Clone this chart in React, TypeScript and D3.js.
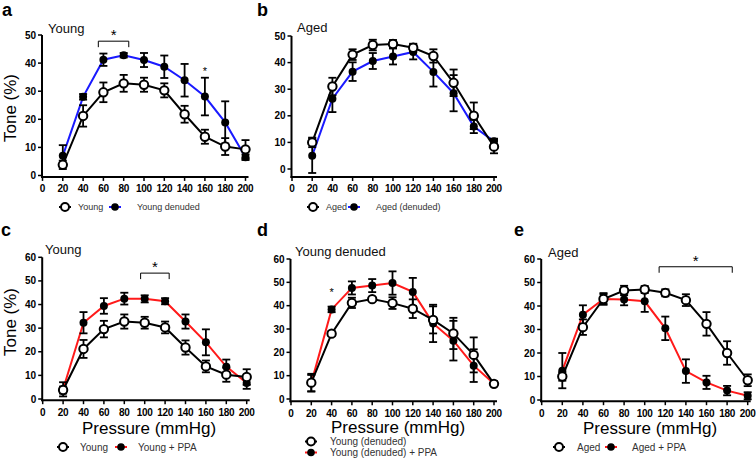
import React from 'react';
import * as d3 from 'd3';

// pressure steps (mmHg)
const pressures = [20, 40, 60, 80, 100, 120, 140, 160, 180, 200];
const xTicks = [0, 20, 40, 60, 80, 100, 120, 140, 160, 180, 200];
const yTicksTop = [0, 10, 20, 30, 40, 50];
const yTicksBottom = [0, 10, 20, 30, 40, 50, 60];

// tone (%) means and SEM
const youngMean = [3.8, 21.2, 29.6, 32.8, 32.3, 30.3, 21.8, 13.8, 10.3, 9.3];
const youngErr = [1.5, 3.8, 3.5, 3, 2.5, 2.5, 3, 2.5, 3, 3.3];
const youngDenudedMean = [7, 28, 41.2, 42.8, 41.1, 38.7, 33.9, 28.1, 18.9, 6.5];
const youngDenudedErr = [3.8, 1, 2.2, 0.8, 2.5, 4, 5.8, 6.7, 7.5, 1];
const agedMean = [10, 31, 43, 46.6, 47, 45.6, 42.5, 32.4, 20, 8.4];
const agedErr = [1.8, 3.3, 2, 2, 1.5, 1.5, 2.5, 5, 5, 2.5];
const agedDenudedMean = [5, 26.4, 36.6, 40.6, 42.3, 44, 36.5, 28.5, 16, 10.4];
const agedDenudedErr = [6.5, 5, 3.5, 3, 3, 2.8, 5.5, 6.8, 2.5, 1];
const youngPpaMean = [4.1, 32.3, 39.4, 42.5, 42.4, 41.4, 32.8, 24, 13.7, 6.8];
const youngPpaErr = [3, 4.5, 3.3, 2.5, 1.5, 1.3, 3, 5.5, 3, 2.5];
const youngDenudedPpaMean = [6.8, 38.4, 47.6, 48.6, 49.7, 45.9, 32.4, 25, 14.3, 6.5];
const youngDenudedPpaErr = [3.5, 1.2, 2.8, 2.8, 5, 6, 8, 8.5, 7, 1];
const agedPpaMean = [12.5, 36.3, 43, 42.8, 42, 30.5, 12.3, 7.5, 4, 1.8];
const agedPpaErr = [7.5, 4, 2.5, 2.5, 4.5, 5, 5, 2.8, 2, 1.5];

const FONT = 'Arial, "Liberation Sans", sans-serif';
const BLUE = '#1a1aff';
const RED = '#ff1a1a';

type Series = { mean: number[]; err: number[]; color: string; open: boolean; label: string };
type Sig = { type: 'bracket' | 'star'; x0: number; x1: number; y: number; size?: number };

type PanelProps = {
  letter: string;
  letterX: number;
  letterY: number;
  title: string;
  titleX: number;
  titleY: number;
  xr: [number, number];
  y0: number; // pixel of tone 0
  yTop: number; // pixel of yMax
  yMax: number;
  yMin: number;
  yTicks: number[];
  series: Series[];
  sigs: Sig[];
  yLabel?: { x: number; y: number };
  xLabel?: { x: number; y: number };
  legend: { y: number; size: number; items: { x: number; dy: number; tx: number }[] };
};

function Panel(p: PanelProps) {
  const x = d3.scaleLinear().domain([0, 200]).range(p.xr);
  const y = d3.scaleLinear().domain([0, p.yMax]).range([p.y0, p.yTop]);
  const axisY = y(p.yMin);
  const axisX = p.xr[0] - 0.5;
  const line = d3
    .line<number>()
    .x((_, i) => x(pressures[i]))
    .y((d) => y(d));

  return (
    <g>
      <text x={p.letterX} y={p.letterY} fontSize={18} fontWeight="bold" fontFamily={FONT}>
        {p.letter}
      </text>
      <text x={p.titleX} y={p.titleY} fontSize={13} fontFamily={FONT} fill="#111">
        {p.title}
      </text>

      {/* axes */}
      <line x1={axisX} x2={axisX} y1={p.yTop} y2={axisY + 1} stroke="#000" strokeWidth={2} />
      <line x1={axisX - 1} x2={x(200) + 3} y1={axisY} y2={axisY} stroke="#000" strokeWidth={2} />
      {p.yTicks.map((t) => (
        <g key={'y' + t}>
          <line x1={axisX - 4} x2={axisX} y1={y(t)} y2={y(t)} stroke="#000" strokeWidth={1.5} />
          <text
            x={axisX - 6}
            y={y(t)}
            dy="0.35em"
            textAnchor="end"
            fontSize={10}
            fontWeight="bold"
            fontFamily={FONT}
          >
            {t}
          </text>
        </g>
      ))}
      {xTicks.map((t) => (
        <g key={'x' + t}>
          <line x1={x(t)} x2={x(t)} y1={axisY} y2={axisY + 4} stroke="#000" strokeWidth={1.5} />
          <text
            x={x(t)}
            y={axisY + 12}
            dy="0.35em"
            textAnchor="middle"
            fontSize={10}
            fontWeight="bold"
            fontFamily={FONT}
            letterSpacing={-0.3}
          >
            {t}
          </text>
        </g>
      ))}

      {p.yLabel && (
        <text
          transform={`translate(${p.yLabel.x},${p.yLabel.y}) rotate(-90)`}
          textAnchor="middle"
          fontSize={17}
          fontFamily={FONT}
        >
          Tone (%)
        </text>
      )}
      {p.xLabel && (
        <text x={p.xLabel.x} y={p.xLabel.y} textAnchor="middle" fontSize={17} fontFamily={FONT}>
          Pressure (mmHg)
        </text>
      )}

      {/* series */}
      {p.series.map((s, si) => (
        <g key={'s' + si}>
          <path d={line(s.mean) || ''} fill="none" stroke={s.color} strokeWidth={2} />
          {s.mean.map((m, i) => {
            const cx = x(pressures[i]);
            const hi = y(m + s.err[i]);
            const lo = y(m - s.err[i]);
            return (
              <g key={i} stroke="#000" strokeWidth={1.8}>
                <line x1={cx} x2={cx} y1={hi} y2={lo} />
                <line x1={cx - 4} x2={cx + 4} y1={hi} y2={hi} />
                <line x1={cx - 4} x2={cx + 4} y1={lo} y2={lo} />
              </g>
            );
          })}
          {s.mean.map((m, i) =>
            s.open ? (
              <circle key={'m' + i} cx={x(pressures[i])} cy={y(m)} r={4.2} fill="#fff" stroke="#000" strokeWidth={2} />
            ) : (
              <circle key={'m' + i} cx={x(pressures[i])} cy={y(m)} r={4} fill="#000" />
            )
          )}
        </g>
      ))}

      {/* significance marks */}
      {p.sigs.map((g, gi) =>
        g.type === 'bracket' ? (
          <g key={'g' + gi}>
            <path
              d={`M${x(g.x0)},${y(g.y) + 6}V${y(g.y)}H${x(g.x1)}V${y(g.y) + 6}`}
              fill="none"
              stroke="#000"
              strokeWidth={1}
            />
            <text x={(x(g.x0) + x(g.x1)) / 2} y={y(g.y) - 1} textAnchor="middle" fontSize={15} fontFamily={FONT}>
              *
            </text>
          </g>
        ) : (
          <text key={'g' + gi} x={x(g.x0)} y={y(g.y) + 5} textAnchor="middle" fontSize={g.size || 11} fontFamily={FONT}>
            *
          </text>
        )
      )}

      {/* legend */}
      {p.series.map((s, si) => {
        const it = p.legend.items[si];
        const lx = it.x;
        const ly = p.legend.y + it.dy;
        return (
          <g key={'l' + si}>
            <line x1={lx - 6} x2={lx + 6} y1={ly} y2={ly} stroke={s.color} strokeWidth={2} />
            {s.open ? (
              <circle cx={lx} cy={ly} r={4} fill="#fff" stroke="#000" strokeWidth={2} />
            ) : (
              <circle cx={lx} cy={ly} r={3.8} fill="#000" />
            )}
            <text x={lx + it.tx} y={ly} dy="0.35em" fontSize={p.legend.size} fontFamily={FONT} fill="#333">
              {s.label}
            </text>
          </g>
        );
      })}
    </g>
  );
}

export default function App() {
  const young: Series = { mean: youngMean, err: youngErr, color: '#000', open: true, label: 'Young' };
  const aged: Series = { mean: agedMean, err: agedErr, color: '#000', open: true, label: 'Aged' };

  return (
    <svg width={756} height={463} style={{ position: 'absolute', left: 0, top: 0, background: '#fff' }}>
      <Panel
        letter="a"
        letterX={2}
        letterY={16}
        title="Young"
        titleX={48}
        titleY={33}
        xr={[42.5, 245.5]}
        y0={175.5}
        yTop={35}
        yMax={50}
        yMin={-0.5}
        yTicks={yTicksTop}
        series={[
          { mean: youngDenudedMean, err: youngDenudedErr, color: BLUE, open: false, label: 'Young denuded' },
          young,
        ]}
        sigs={[
          { type: 'bracket', x0: 55, x1: 85, y: 47.8 },
          { type: 'star', x0: 160, x1: 160, y: 37.5 },
        ]}
        yLabel={{ x: 16, y: 108 }}
        legend={{ y: 207, size: 9, items: [{ x: 115, dy: 0, tx: 22 }, { x: 65, dy: 0, tx: 13 }] }}
      />
      <Panel
        letter="b"
        letterX={257}
        letterY={16}
        title="Aged"
        titleX={297}
        titleY={32}
        xr={[292, 494]}
        y0={169}
        yTop={36}
        yMax={50}
        yMin={-3}
        yTicks={yTicksTop}
        series={[
          { mean: agedDenudedMean, err: agedDenudedErr, color: BLUE, open: false, label: 'Aged (denuded)' },
          aged,
        ]}
        sigs={[]}
        legend={{ y: 207, size: 9, items: [{ x: 354, dy: 0, tx: 22 }, { x: 313, dy: 0, tx: 13 }] }}
      />
      <Panel
        letter="c"
        letterX={1}
        letterY={236}
        title="Young"
        titleX={45}
        titleY={254}
        xr={[42.7, 246.7]}
        y0={399}
        yTop={257.3}
        yMax={60}
        yMin={-0.5}
        yTicks={yTicksBottom}
        series={[
          { mean: youngPpaMean, err: youngPpaErr, color: RED, open: false, label: 'Young + PPA' },
          young,
        ]}
        sigs={[{ type: 'bracket', x0: 96, x1: 124, y: 53.3 }]}
        yLabel={{ x: 16, y: 322 }}
        xLabel={{ x: 149, y: 434 }}
        legend={{ y: 447, size: 10, items: [{ x: 121, dy: 0, tx: 17 }, { x: 63, dy: 0, tx: 17 }] }}
      />
      <Panel
        letter="d"
        letterX={257}
        letterY={236}
        title="Young denuded"
        titleX={295}
        titleY={256}
        xr={[291, 494]}
        y0={399}
        yTop={259}
        yMax={60}
        yMin={-1}
        yTicks={yTicksBottom}
        series={[
          {
            mean: youngDenudedPpaMean,
            err: youngDenudedPpaErr,
            color: RED,
            open: false,
            label: 'Young (denuded) + PPA',
          },
          { mean: youngDenudedMean, err: youngDenudedErr, color: '#000', open: true, label: 'Young (denuded)' },
        ]}
        sigs={[{ type: 'star', x0: 40, x1: 40, y: 46.3 }]}
        xLabel={{ x: 398, y: 433 }}
        legend={{ y: 441.5, size: 10, items: [{ x: 311, dy: 11, tx: 19 }, { x: 311, dy: 0, tx: 19 }] }}
      />
      <Panel
        letter="e"
        letterX={514}
        letterY={236}
        title="Aged"
        titleX={548}
        titleY={257}
        xr={[541.7, 747.7]}
        y0={400}
        yTop={259}
        yMax={60}
        yMin={-0.5}
        yTicks={yTicksBottom}
        series={[
          { mean: agedPpaMean, err: agedPpaErr, color: RED, open: false, label: 'Aged + PPA' },
          aged,
        ]}
        sigs={[{ type: 'bracket', x0: 114, x1: 185, y: 56.7 }]}
        xLabel={{ x: 650, y: 434 }}
        legend={{ y: 447, size: 10, items: [{ x: 611, dy: 0, tx: 21 }, { x: 559, dy: 0, tx: 18 }] }}
      />
    </svg>
  );
}
